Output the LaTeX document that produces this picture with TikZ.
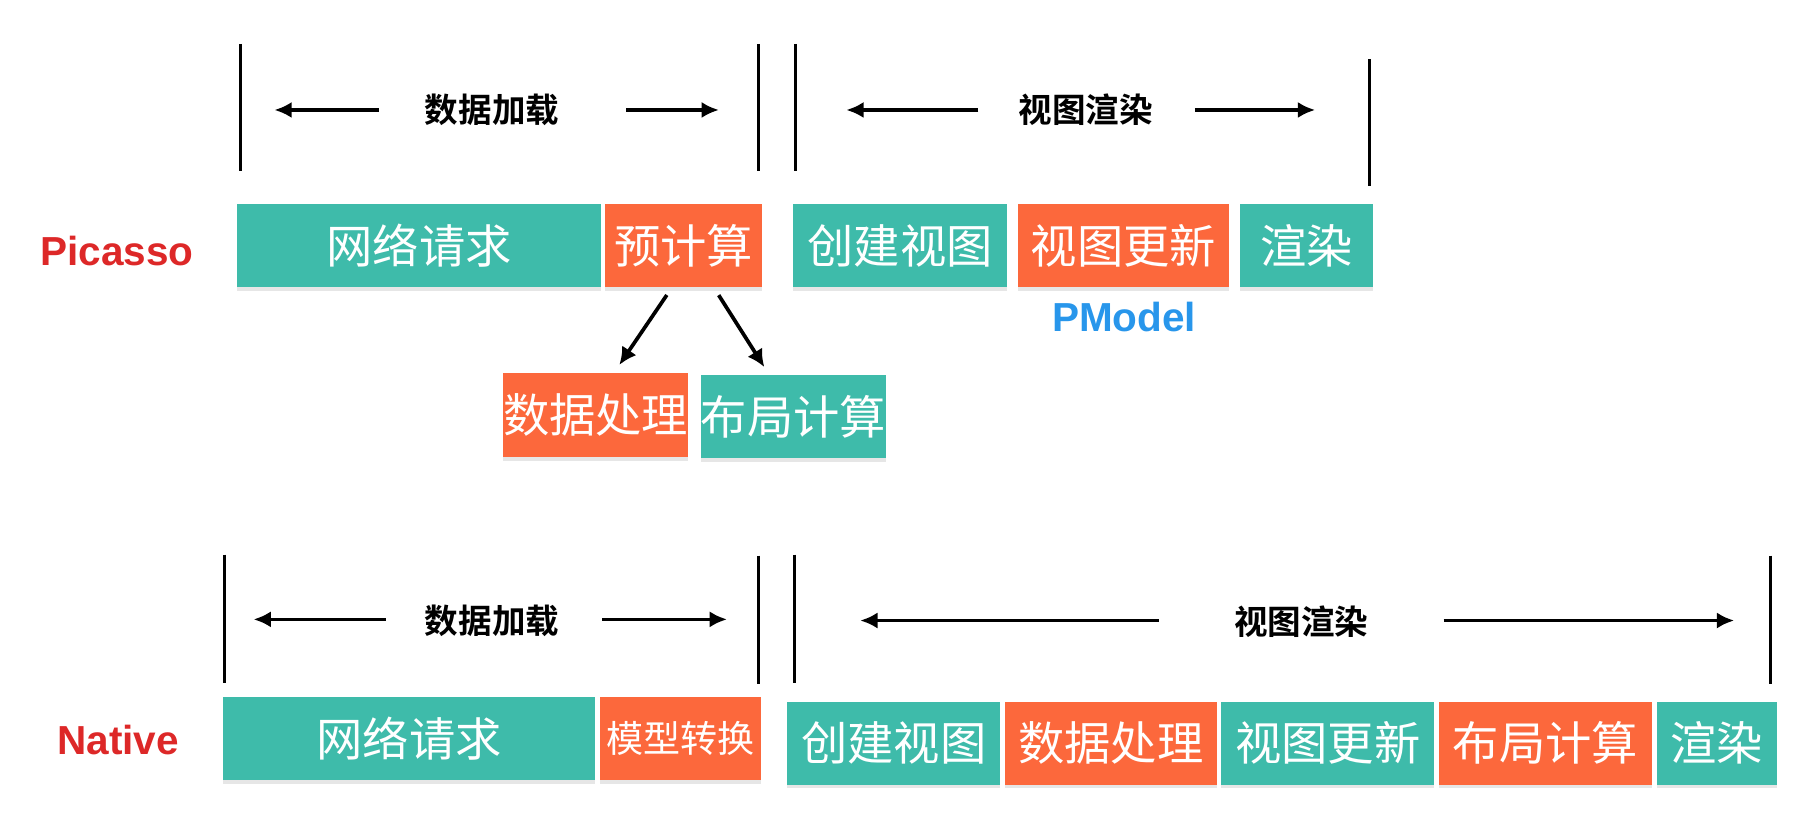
\documentclass[tikz,border=0pt]{standalone}
\usepackage{fontspec}
\setmainfont{Liberation Sans}
\newfontfamily\cjk{Noto Sans CJK SC}[BoldFont={Noto Sans CJK SC Bold}]
\usepackage{tikz}
\usetikzlibrary{arrows.meta}
\usetikzlibrary{positioning}
\usetikzlibrary{shadows}

\definecolor{stageteal}{RGB}{62,187,170}
\definecolor{stageorange}{RGB}{252,104,60}
\definecolor{rowred}{RGB}{221,40,40}
\definecolor{modelblue}{RGB}{40,150,235}

\begin{document}
\begin{tikzpicture}[x=1pt, y=-1pt,
    stage/.style={minimum height=72pt, inner sep=0pt, text=white,
                  font=\cjk\fontsize{40}{40}\selectfont,
                  drop shadow={opacity=0.2, shadow xshift=0pt, shadow yshift=-3pt}},
    tealstage/.style={stage, fill=stageteal},
    orangestage/.style={stage, fill=stageorange},
    phase/.style={font=\cjk\bfseries\fontsize{29}{29}\selectfont},
    rowname/.style={font=\bfseries\fontsize{35}{35}\selectfont, text=rowred},
    span/.style={line width=3.2pt, -{Latex[length=15pt, width=14pt]}},
    tick/.style={line width=2.6pt},
    split/.style={line width=3.2pt, -{Latex[length=15pt, width=15pt]}, shorten <=8pt, shorten >=8pt}]
  \useasboundingbox (0,0) rectangle (1560,718.7);

  % Picasso
  \node[rowname] (picasso) at (101,217) {Picasso};
  \draw[tick] (208,38) -- (208,148);
  \draw[tick] (655,38) -- (655,148);
  \draw[tick] (687,38) -- (687,148);
  \draw[tick] (1183,51) -- (1183,161);

  \node[phase] (load1) at (425,95) {数据加载};
  \coordinate (l1a) at (327,95);  \coordinate (l1b) at (237,95);
  \coordinate (l1c) at (541,95);  \coordinate (l1d) at (621,95);
  \draw[span] (l1a) -- (l1b);
  \draw[span] (l1c) -- (l1d);

  \node[phase] (view1) at (938,95) {视图渲染};
  \coordinate (v1a) at (845,95);  \coordinate (v1b) at (731,95);
  \coordinate (v1c) at (1032,95); \coordinate (v1d) at (1136,95);
  \draw[span] (v1a) -- (v1b);
  \draw[span] (v1c) -- (v1d);

  \node[tealstage, minimum width=314pt] (net1) at (362,212) {网络请求};
  \node[orangestage, minimum width=135pt] (pre) at (590.5,212) {预计算};
  \node[tealstage, minimum width=185pt] (create1) at (777.5,212) {创建视图};
  \node[orangestage, minimum width=183pt] (update1) at (970.5,212) {视图更新};
  \node[tealstage, minimum width=115pt] (render1) at (1128.5,212) {渲染};
  \node[font=\bfseries\fontsize{35}{35}\selectfont, text=modelblue] (pmodel) at (971,274) {PModel};

  \node[orangestage, minimum width=155pt, minimum height=73pt] (proc1) at (514.5,358.5) {数据处理};
  \node[tealstage, minimum width=159pt] (layout1) at (685.5,360) {布局计算};
  \draw[split] ([xshift=-10pt]pre.south) -- ([xshift=16pt]proc1.north);
  \draw[split] ([xshift=26pt]pre.south) -- ([xshift=-21pt]layout1.north);

  % Native
  \node[rowname] (native) at (102,639) {Native};
  \draw[tick] (194,479) -- (194,590);
  \draw[tick] (655,480) -- (655,591);
  \draw[tick] (686,479) -- (686,590);
  \draw[tick] (1529,480) -- (1529,591);

  \node[phase] (load2) at (425,536) {数据加载};
  \coordinate (l2a) at (333,535);  \coordinate (l2b) at (219,535);
  \coordinate (l2c) at (520,535);  \coordinate (l2d) at (628,535);
  \draw[span] (l2a) -- (l2b);
  \draw[span] (l2c) -- (l2d);

  \node[phase] (view2) at (1124,537) {视图渲染};
  \coordinate (v2a) at (1001,536); \coordinate (v2b) at (743,536);
  \coordinate (v2c) at (1247,536); \coordinate (v2d) at (1498,536);
  \draw[span] (v2a) -- (v2b);
  \draw[span] (v2c) -- (v2d);

  \node[tealstage, minimum width=321pt] (net2) at (353.5,638) {网络请求};
  \node[orangestage, minimum width=139pt, font=\cjk\fontsize{32}{32}\selectfont] (convert) at (588,638) {模型转换};
  \node[tealstage, minimum width=184pt] (create2) at (772,642) {创建视图};
  \node[orangestage, minimum width=183pt] (proc2) at (959.5,642) {数据处理};
  \node[tealstage, minimum width=184pt] (update2) at (1147,642) {视图更新};
  \node[orangestage, minimum width=184pt] (layout2) at (1335,642) {布局计算};
  \node[tealstage, minimum width=104pt] (render2) at (1483,642) {渲染};
\end{tikzpicture}
\end{document}
